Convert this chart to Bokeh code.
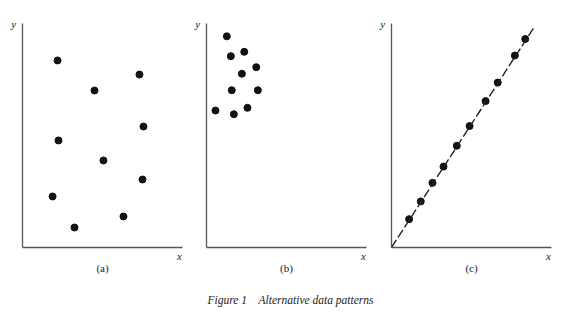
from bokeh.plotting import figure
from bokeh.layouts import row
from bokeh.models import FixedTicker, LinearAxis
from bokeh.core.properties import value
from bokeh.embed import file_html
from bokeh.resources import INLINE

# ---- data ----
a_x = [2.19, 4.50, 7.31, 7.56, 2.25, 5.06, 7.50, 1.88, 6.31, 3.25]
a_y = [11.69, 9.81, 10.81, 7.56, 6.69, 5.44, 4.25, 3.19, 1.94, 1.25]

b_x = [1.27, 2.36, 1.52, 3.11, 2.21, 1.58, 3.21, 2.56, 0.56, 1.71]
b_y = [13.20, 12.23, 11.96, 11.27, 10.86, 9.83, 9.83, 8.73, 8.56, 8.33]

c_x = [1.10, 1.83, 2.56, 3.25, 4.08, 4.88, 5.88, 6.64, 7.71, 8.36]
c_y = [1.77, 2.88, 4.04, 5.06, 6.36, 7.59, 9.15, 10.31, 12.00, 13.03]

line_x = [0.0, 8.89]
line_y = [0.0, 13.73]

panel_names = ["(a)", "(b)", "(c)"]
axis_names = ["x", "y"]
caption = "Figure 1\u00a0\u00a0\u00a0\u00a0Alternative data patterns"

SERIF = value("Liberation Serif")
AXIS_COLOR = "#555555"
TEXT_COLOR = "#222222"
PX = 16.0  # pixels per data unit


def make_panel(width, origin_px, xs, ys, name, caption_text=None):
    # frame covers the whole canvas; origin of the axes at (origin_px, 247)
    x0 = -origin_px / PX
    x1 = (width - origin_px) / PX
    y1 = 247 / PX
    y0 = -(316 - 247) / PX
    p = figure(width=width, height=316, x_range=(x0, x1), y_range=(y0, y1),
               x_axis_type=None, y_axis_type=None,
               output_backend="svg", toolbar_location=None,
               min_border=0)
    p.grid.visible = False
    p.outline_line_color = None
    p.background_fill_color = "white"
    p.border_fill_color = "white"

    xa = LinearAxis(fixed_location=0, bounds=(0, 10))
    ya = LinearAxis(fixed_location=0, bounds=(0, 14))
    for ax in (xa, ya):
        ax.ticker = FixedTicker(ticks=[])
        ax.major_tick_in = 0
        ax.major_tick_out = 0
        ax.minor_tick_in = 0
        ax.minor_tick_out = 0
        ax.major_label_standoff = 0
        ax.axis_label_standoff = 0
        ax.major_label_text_font_size = "0px"
        ax.axis_line_color = AXIS_COLOR
        ax.axis_line_width = 1.3
    p.add_layout(xa, "below")
    p.add_layout(ya, "left")

    p.scatter(xs, ys, size=7, color="#111111")
    p.text(x=[9.81], y=[-0.5], text=[axis_names[0]], text_font=SERIF,
           text_font_style="italic", text_font_size="11px",
           text_color=TEXT_COLOR, text_align="center", text_baseline="middle")
    p.text(x=[-0.55], y=[13.94], text=[axis_names[1]], text_font=SERIF,
           text_font_style="italic", text_font_size="11px",
           text_color=TEXT_COLOR, text_align="center", text_baseline="middle")
    p.text(x=[5.0], y=[-1.31], text=[name], text_font=SERIF,
           text_font_size="11px", text_color=TEXT_COLOR,
           text_align="center", text_baseline="middle")
    if caption_text:
        p.text(x=[5.25], y=[-3.25], text=[caption_text], text_font=SERIF,
               text_font_style="italic", text_font_size="11.5px",
               text_color=TEXT_COLOR, text_align="center",
               text_baseline="middle")
    return p


pa = make_panel(185, 22, a_x, a_y, panel_names[0])
pb = make_panel(191, 21, b_x, b_y, panel_names[1], caption)
pc = make_panel(187, 15, c_x, c_y, panel_names[2])
pc.line(line_x, line_y, line_color="#222222", line_width=1.4, line_dash="9 3")

layout = row(pa, pb, pc, spacing=0)

open("out.html", "w").write(file_html(layout, INLINE))
